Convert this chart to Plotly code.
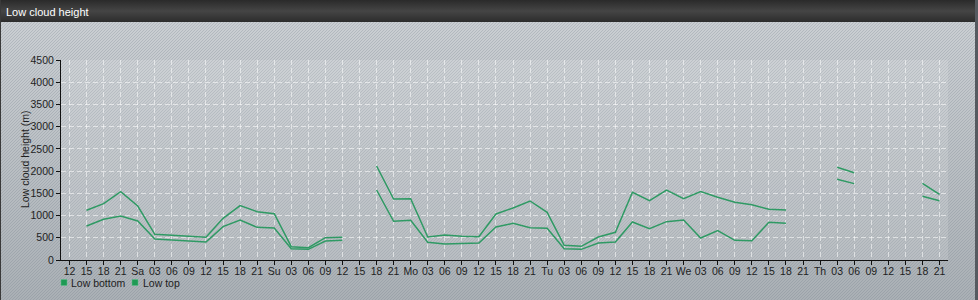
import base64
import plotly.graph_objects as go

# ---- data ----
tick_labels = ['12', '15', '18', '21',
               'Sa', '03', '06', '09', '12', '15', '18', '21',
               'Su', '03', '06', '09', '12', '15', '18', '21',
               'Mo', '03', '06', '09', '12', '15', '18', '21',
               'Tu', '03', '06', '09', '12', '15', '18', '21',
               'We', '03', '06', '09', '12', '15', '18', '21',
               'Th', '03', '06', '09', '12', '15', '18', '21']

low_bottom = [None, 765, 915, 990, 878, 473, 450, 413, 405, 750, 900, 735, 720, 255, 240, 428, 443, None,
              1575, 870, 893, 398, 360, 375, 383, 743, 825, 728, 713, 255, 240, 383, 405, 855, 705,
              863, 900, 495, 660, 443, 435, 848, 825, None, None, 1815, 1718, None, None, None, 1433, 1335]

low_top = [None, 1118, 1268, 1538, 1215, 578, 555, 533, 510, 938, 1223, 1088, 1043, 300, 278, 503, 510, None,
           2115, 1373, 1380, 518, 563, 533, 525, 1035, 1170, 1328, 1073, 330, 308, 518, 623, 1523, 1335,
           1575, 1380, 1538, 1410, 1298, 1245, 1140, 1125, None, None, 2085, 1965, None, None, None, 1725, 1478]

series_names = ['Low bottom', 'Low top']
y_ticks = list(range(0, 4501, 500))

# ---- layout constants ----
W, H = 978, 300
ML, MR, MT, MB = 61, 30, 60, 40
PW, PH = W - ML - MR, H - MT - MB
LINE_COLOR = '#2f9a64'
FONT = 'Arial, Liberation Sans, sans-serif'
FS = 10.5

x_idx = list(range(len(tick_labels)))


def px_x(px):
    return (px - ML) / PW


def px_y(py):
    return (H - MB - py) / PH


# background svg (gradient + diagonal hatching + title bar)
svg = f'''<svg xmlns="http://www.w3.org/2000/svg" width="{W}" height="{H}">
<defs>
<linearGradient id="g" x1="0" y1="0" x2="0" y2="1">
<stop offset="0" stop-color="#cdd1d5"/><stop offset="1" stop-color="#aab0b5"/></linearGradient>
<pattern id="h" width="3" height="3" patternUnits="userSpaceOnUse">
<path d="M-1,1 L1,-1 M0,3 L3,0 M2,4 L4,2" stroke="#6e7a86" stroke-opacity="0.26" stroke-width="1"/></pattern>
<linearGradient id="t" x1="0" y1="0" x2="0" y2="1">
<stop offset="0" stop-color="#2a2a2a"/><stop offset="0.5" stop-color="#454545"/><stop offset="1" stop-color="#2c2c2c"/></linearGradient>
</defs>
<rect width="{W}" height="{H}" fill="url(#g)"/>
<rect width="{W}" height="{H}" fill="url(#h)"/>
<rect width="{W}" height="22" fill="url(#t)"/>
<rect x="0" y="0" width="1" height="{H}" fill="#3a3a3a"/>
<rect x="{W-3}" y="0" width="3" height="{H}" fill="#555a60"/>
</svg>'''
svg_uri = 'data:image/svg+xml;base64,' + base64.b64encode(svg.encode()).decode()

fig = go.Figure()
for name, vals in zip(series_names, [low_bottom, low_top]):
    fig.add_trace(go.Scatter(x=x_idx, y=vals, mode='lines', name=name,
                             line=dict(color=LINE_COLOR, width=1.5),
                             connectgaps=False, showlegend=False, hoverinfo='skip'))

fig.update_layout(
    width=W, height=H,
    margin=dict(l=ML, r=MR, t=MT, b=MB, pad=0),
    paper_bgcolor='#c0c5ca',
    plot_bgcolor='rgba(0,0,0,0)',
    font=dict(family=FONT, size=FS, color='#1e1e1e'),
    showlegend=False,
    images=[dict(source=svg_uri, xref='paper', yref='paper',
                 x=px_x(0), y=px_y(0), sizex=W / PW, sizey=H / PH,
                 xanchor='left', yanchor='top', sizing='stretch', layer='below')],
    shapes=[dict(type='rect', xref='paper', yref='paper', x0=0, x1=1, y0=0, y1=1,
                 fillcolor='rgba(255,255,255,0.13)', line=dict(width=0), layer='below')],
    xaxis=dict(range=[-0.5, len(tick_labels) - 0.5], tickmode='array', tickvals=x_idx,
               ticktext=tick_labels, showgrid=True, gridcolor='rgba(255,255,255,0.55)',
               griddash='5px,3px', gridwidth=1, showline=True, linecolor='#111', linewidth=1,
               ticks='outside', ticklen=4, tickcolor='#111', zeroline=False,
               ticklabelstandoff=-3,
               tickfont=dict(size=FS, color='#1e1e1e'), fixedrange=True),
    yaxis=dict(range=[0, 4500], tickmode='array', tickvals=y_ticks,
               showgrid=True, gridcolor='rgba(255,255,255,0.55)', griddash='5px,3px', gridwidth=1,
               showline=True, linecolor='#111', linewidth=1, ticks='outside', ticklen=4,
               tickcolor='#111', zeroline=False, tickfont=dict(size=FS, color='#1e1e1e'),
               fixedrange=True),
)

annotations = [
    dict(text='Low cloud height', xref='paper', yref='paper', x=px_x(4), y=px_y(12),
         xanchor='left', yanchor='middle', showarrow=False,
         font=dict(size=11, color='#ffffff', family=FONT)),
    dict(text='Low cloud height (m)', xref='paper', yref='paper', x=px_x(25), y=0.5,
         textangle=-90, xanchor='center', yanchor='middle', showarrow=False,
         font=dict(size=FS, color='#1e1e1e', family=FONT)),
]
# manual legend
legend_pos = [(61, 69), (132, 141)]
for name, (sq_x, tx) in zip(series_names, legend_pos):
    fig.add_shape(type='rect', xref='paper', yref='paper',
                  x0=px_x(sq_x), x1=px_x(sq_x + 6), y0=px_y(285.5), y1=px_y(279.5),
                  fillcolor='#1f9a55', line=dict(color='#5cc08a', width=0.5))
    annotations.append(dict(text=name, xref='paper', yref='paper', x=px_x(tx), y=px_y(282.5),
                            xanchor='left', yanchor='middle', showarrow=False,
                            font=dict(size=FS, color='#1e1e1e', family=FONT)))
fig.update_layout(annotations=annotations)

fig.write_html('out.html')
